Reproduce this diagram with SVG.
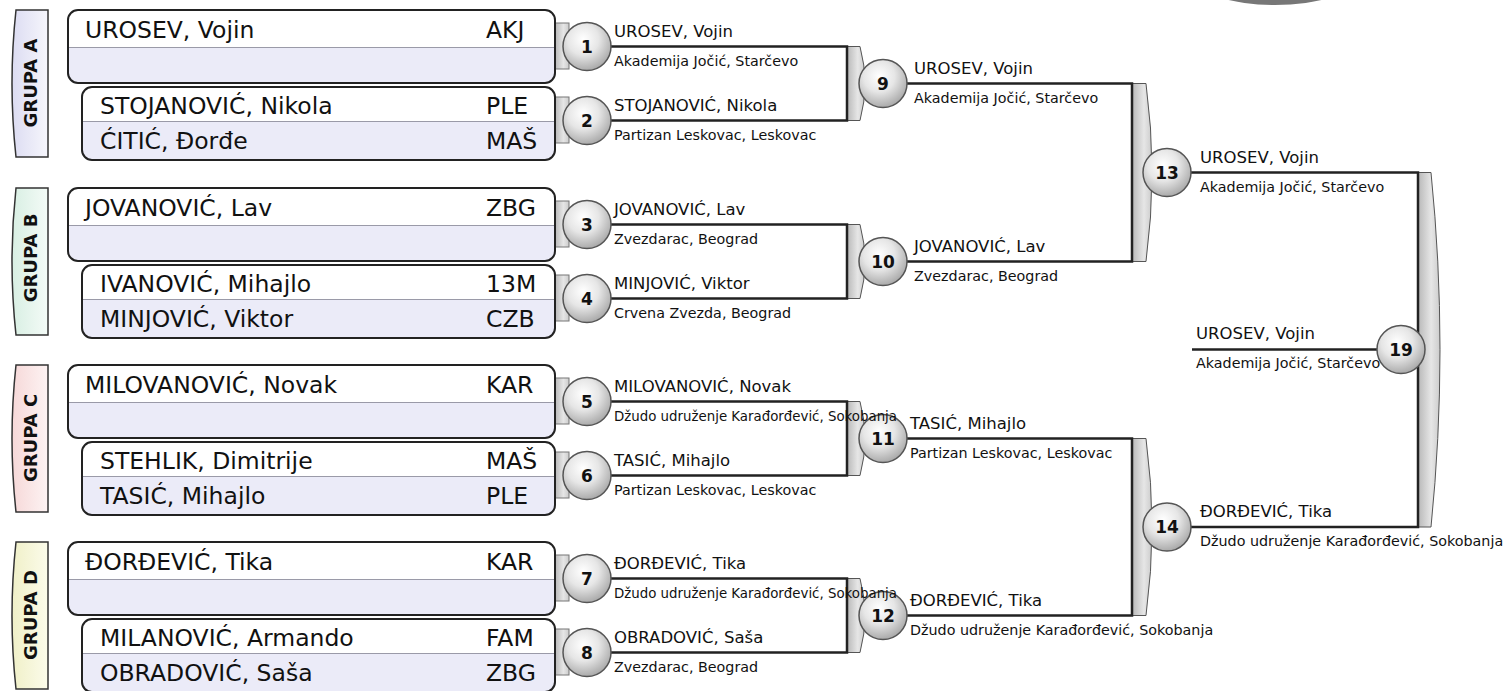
<svg xmlns="http://www.w3.org/2000/svg" width="1508" height="691" viewBox="0 0 1508 691">
<defs>
<radialGradient id="gc" cx="42%" cy="35%" r="65%"><stop offset="0" stop-color="#ffffff"/><stop offset="0.5" stop-color="#e6e6e6"/><stop offset="1" stop-color="#ababab"/></radialGradient>
<linearGradient id="gb" x1="0" y1="0" x2="1" y2="0"><stop offset="0" stop-color="#b8b8b8"/><stop offset="0.6" stop-color="#e6e6e6"/><stop offset="1" stop-color="#cccccc"/></linearGradient>
<linearGradient id="ga" x1="0" y1="0" x2="1" y2="0"><stop offset="0" stop-color="#dcdcf2"/><stop offset="1" stop-color="#f6f6fc"/></linearGradient>
<linearGradient id="gB" x1="0" y1="0" x2="1" y2="0"><stop offset="0" stop-color="#d8efe3"/><stop offset="1" stop-color="#f4fbf7"/></linearGradient>
<linearGradient id="gC" x1="0" y1="0" x2="1" y2="0"><stop offset="0" stop-color="#f6d8d8"/><stop offset="1" stop-color="#fdf3f3"/></linearGradient>
<linearGradient id="gD" x1="0" y1="0" x2="1" y2="0"><stop offset="0" stop-color="#f0f0c8"/><stop offset="1" stop-color="#fbfbea"/></linearGradient>
<radialGradient id="gk" cx="50%" cy="30%" r="60%"><stop offset="0" stop-color="#000"/><stop offset="0.85" stop-color="#222"/><stop offset="1" stop-color="#777"/></radialGradient>
<style>
text{font-family:"DejaVu Sans","Noto Sans",sans-serif;fill:#111}
.nm{font-size:23.5px}
.p{font-size:16.5px}
.c{font-size:14.3px}
.n{font-size:17px;font-weight:bold;text-anchor:middle}
.g{font-size:18px;font-weight:bold;text-anchor:middle}
.box{fill:none;stroke:#222;stroke-width:2}
.lav{fill:#ebebf8}
.wh{fill:#ffffff}
.dv{stroke:#9a9aa8;stroke-width:1.2;fill:none}
.tabg{stroke:#333;stroke-width:1.5}
.tr{fill:url(#gb);stroke:#777;stroke-width:1}
.br{fill:url(#gb);stroke:#555;stroke-width:1}
.ln{fill:none;stroke:#222;stroke-width:2.5}
.ci{fill:url(#gc);stroke:#555;stroke-width:1.5}
</style>
</defs>
<rect width="1508" height="691" fill="#ffffff"/>
<ellipse cx="1275" cy="-22" rx="80" ry="27" fill="url(#gk)"/>

<!-- groups -->
<g id="grupaA" transform="translate(0,10)">
<path class="tabg" fill="url(#ga)" d="M48,0 L16,0 Q8,73.5 16,147 L48,147 Z"/>
<text class="g" transform="translate(37,73) rotate(-90)">GRUPA A</text>
<rect class="tr" x="555" y="13" width="14" height="46"/><rect class="tr" x="555" y="87" width="14" height="46"/>
<rect class="lav" x="68" y="0" width="487" height="73" rx="10"/>
<path class="wh" d="M68,37.5 V10 Q68,0 78,0 H545 Q555,0 555,10 V37.5 Z"/>
<path class="dv" d="M68,37.5 H555"/>
<rect class="box" x="68" y="0" width="487" height="73" rx="10"/>
<rect class="lav" x="82" y="77" width="473" height="73" rx="10"/>
<path class="wh" d="M82,111.5 V87 Q82,77 92,77 H545 Q555,77 555,87 V111.5 Z"/>
<path class="dv" d="M82,111.5 H555"/>
<rect class="box" x="82" y="77" width="473" height="73" rx="10"/>
<text class="nm" x="85" y="27.5">UROSEV, Vojin</text><text class="nm" x="486" y="27.5">AKJ</text>
<text class="nm" x="100" y="103.5">STOJANOVIĆ, Nikola</text><text class="nm" x="486" y="103.5">PLE</text>
<text class="nm" x="100" y="138.5">ĆITIĆ, Đorđe</text><text class="nm" x="486" y="138.5">MAŠ</text>
</g>

<g id="grupaB" transform="translate(0,188)">
<path class="tabg" fill="url(#gB)" d="M48,0 L16,0 Q8,73.5 16,147 L48,147 Z"/>
<text class="g" transform="translate(37,70) rotate(-90)">GRUPA B</text>
<rect class="tr" x="555" y="13" width="14" height="46"/><rect class="tr" x="555" y="87" width="14" height="46"/>
<rect class="lav" x="68" y="0" width="487" height="73" rx="10"/>
<path class="wh" d="M68,37.5 V10 Q68,0 78,0 H545 Q555,0 555,10 V37.5 Z"/>
<path class="dv" d="M68,37.5 H555"/>
<rect class="box" x="68" y="0" width="487" height="73" rx="10"/>
<rect class="lav" x="82" y="77" width="473" height="73" rx="10"/>
<path class="wh" d="M82,111.5 V87 Q82,77 92,77 H545 Q555,77 555,87 V111.5 Z"/>
<path class="dv" d="M82,111.5 H555"/>
<rect class="box" x="82" y="77" width="473" height="73" rx="10"/>
<text class="nm" x="85" y="27.5">JOVANOVIĆ, Lav</text><text class="nm" x="486" y="27.5">ZBG</text>
<text class="nm" x="100" y="103.5">IVANOVIĆ, Mihajlo</text><text class="nm" x="486" y="103.5">13M</text>
<text class="nm" x="100" y="138.5">MINJOVIĆ, Viktor</text><text class="nm" x="486" y="138.5">CZB</text>
</g>

<g id="grupaC" transform="translate(0,365)">
<path class="tabg" fill="url(#gC)" d="M48,0 L16,0 Q8,73.5 16,147 L48,147 Z"/>
<text class="g" transform="translate(37,73) rotate(-90)">GRUPA C</text>
<rect class="tr" x="555" y="13" width="14" height="46"/><rect class="tr" x="555" y="87" width="14" height="46"/>
<rect class="lav" x="68" y="0" width="487" height="73" rx="10"/>
<path class="wh" d="M68,37.5 V10 Q68,0 78,0 H545 Q555,0 555,10 V37.5 Z"/>
<path class="dv" d="M68,37.5 H555"/>
<rect class="box" x="68" y="0" width="487" height="73" rx="10"/>
<rect class="lav" x="82" y="77" width="473" height="73" rx="10"/>
<path class="wh" d="M82,111.5 V87 Q82,77 92,77 H545 Q555,77 555,87 V111.5 Z"/>
<path class="dv" d="M82,111.5 H555"/>
<rect class="box" x="82" y="77" width="473" height="73" rx="10"/>
<text class="nm" x="85" y="27.5">MILOVANOVIĆ, Novak</text><text class="nm" x="486" y="27.5">KAR</text>
<text class="nm" x="100" y="103.5">STEHLIK, Dimitrije</text><text class="nm" x="486" y="103.5">MAŠ</text>
<text class="nm" x="100" y="138.5">TASIĆ, Mihajlo</text><text class="nm" x="486" y="138.5">PLE</text>
</g>

<g id="grupaD" transform="translate(0,542)">
<path class="tabg" fill="url(#gD)" d="M48,0 L16,0 Q8,73.5 16,147 L48,147 Z"/>
<text class="g" transform="translate(37,73) rotate(-90)">GRUPA D</text>
<rect class="tr" x="555" y="13" width="14" height="46"/><rect class="tr" x="555" y="87" width="14" height="46"/>
<rect class="lav" x="68" y="0" width="487" height="73" rx="10"/>
<path class="wh" d="M68,37.5 V10 Q68,0 78,0 H545 Q555,0 555,10 V37.5 Z"/>
<path class="dv" d="M68,37.5 H555"/>
<rect class="box" x="68" y="0" width="487" height="73" rx="10"/>
<rect class="lav" x="82" y="77" width="473" height="73" rx="10"/>
<path class="wh" d="M82,111.5 V87 Q82,77 92,77 H545 Q555,77 555,87 V111.5 Z"/>
<path class="dv" d="M82,111.5 H555"/>
<rect class="box" x="82" y="77" width="473" height="73" rx="10"/>
<text class="nm" x="85" y="27.5">ĐORĐEVIĆ, Tika</text><text class="nm" x="486" y="27.5">KAR</text>
<text class="nm" x="100" y="103.5">MILANOVIĆ, Armando</text><text class="nm" x="486" y="103.5">FAM</text>
<text class="nm" x="100" y="138.5">OBRADOVIĆ, Saša</text><text class="nm" x="486" y="138.5">ZBG</text>
</g>

<!-- connectors -->
<g id="connectors">
<path class="br" d="M847,46.5 H860 Q870,83.5 860,120.5 H847 Z"/>
<path class="br" d="M847,224.5 H860 Q870,261.5 860,298.5 H847 Z"/>
<path class="br" d="M847,401.5 H860 Q870,438.5 860,475.5 H847 Z"/>
<path class="br" d="M847,578.5 H860 Q870,615.5 860,652.5 H847 Z"/>
<path class="br" d="M1132,83.5 H1146 Q1158,172.5 1146,261.5 H1132 Z"/>
<path class="br" d="M1132,438.5 H1146 Q1158,527 1146,615.5 H1132 Z"/>
<path class="br" d="M1418,172.5 H1431 Q1449,349.75 1431,527 H1418 Z"/>
<path class="ln" d="M587,46.5 H847 V120.5 H587"/>
<path class="ln" d="M587,224.5 H847 V298.5 H587"/>
<path class="ln" d="M587,401.5 H847 V475.5 H587"/>
<path class="ln" d="M587,578.5 H847 V652.5 H587"/>
<path class="ln" d="M883,83.5 H1132 V261.5 H883"/>
<path class="ln" d="M883,438.5 H1132 V615.5 H883"/>
<path class="ln" d="M1167,172.5 H1418 V527 H1167"/>
<path class="ln" d="M1192,349.5 H1401"/>
</g>

<!-- match nodes -->
<g id="m1"><circle class="ci" cx="587" cy="46.5" r="24"/><text class="n" x="587" y="52.5">1</text></g>
<g id="m2"><circle class="ci" cx="587" cy="120.5" r="24"/><text class="n" x="587" y="126.5">2</text></g>
<g id="m3"><circle class="ci" cx="587" cy="224.5" r="24"/><text class="n" x="587" y="230.5">3</text></g>
<g id="m4"><circle class="ci" cx="587" cy="298.5" r="24"/><text class="n" x="587" y="304.5">4</text></g>
<g id="m5"><circle class="ci" cx="587" cy="401.5" r="24"/><text class="n" x="587" y="407.5">5</text></g>
<g id="m6"><circle class="ci" cx="587" cy="475.5" r="24"/><text class="n" x="587" y="481.5">6</text></g>
<g id="m7"><circle class="ci" cx="587" cy="578.5" r="24"/><text class="n" x="587" y="584.5">7</text></g>
<g id="m8"><circle class="ci" cx="587" cy="652.5" r="24"/><text class="n" x="587" y="658.5">8</text></g>
<g id="m9"><circle class="ci" cx="883" cy="83.5" r="24"/><text class="n" x="883" y="89.5">9</text></g>
<g id="m10"><circle class="ci" cx="883" cy="261.5" r="24"/><text class="n" x="883" y="267.5">10</text></g>
<g id="m11"><circle class="ci" cx="883" cy="438.5" r="24"/><text class="n" x="883" y="444.5">11</text></g>
<g id="m12"><circle class="ci" cx="883" cy="615.5" r="24"/><text class="n" x="883" y="621.5">12</text></g>
<g id="m13"><circle class="ci" cx="1167" cy="172.5" r="24"/><text class="n" x="1167" y="178.5">13</text></g>
<g id="m14"><circle class="ci" cx="1167" cy="527" r="24"/><text class="n" x="1167" y="533">14</text></g>
<g id="m19">
<text class="p" x="1196" y="339">UROSEV, Vojin</text><text class="c" x="1196" y="368">Akademija Jočić, Starčevo</text>
<circle class="ci" cx="1401" cy="349.5" r="24"/><text class="n" x="1401" y="355.5">19</text></g>

<!-- result labels -->
<g id="labels">
<text class="p" x="614" y="36.5">UROSEV, Vojin</text><text class="c" x="614" y="65.5">Akademija Jočić, Starčevo</text>
<text class="p" x="614" y="110.5">STOJANOVIĆ, Nikola</text><text class="c" x="614" y="139.5">Partizan Leskovac, Leskovac</text>
<text class="p" x="614" y="214.5">JOVANOVIĆ, Lav</text><text class="c" x="614" y="243.5">Zvezdarac, Beograd</text>
<text class="p" x="614" y="288.5">MINJOVIĆ, Viktor</text><text class="c" x="614" y="317.5">Crvena Zvezda, Beograd</text>
<text class="p" x="614" y="391.5">MILOVANOVIĆ, Novak</text><text class="c" x="614" y="420.5" textLength="283" lengthAdjust="spacingAndGlyphs">Džudo udruženje Karađorđević, Sokobanja</text>
<text class="p" x="614" y="465.5">TASIĆ, Mihajlo</text><text class="c" x="614" y="494.5">Partizan Leskovac, Leskovac</text>
<text class="p" x="614" y="568.5">ĐORĐEVIĆ, Tika</text><text class="c" x="614" y="597.5" textLength="283" lengthAdjust="spacingAndGlyphs">Džudo udruženje Karađorđević, Sokobanja</text>
<text class="p" x="614" y="642.5">OBRADOVIĆ, Saša</text><text class="c" x="614" y="671.5">Zvezdarac, Beograd</text>
<text class="p" x="914" y="73.5">UROSEV, Vojin</text><text class="c" x="914" y="102.5">Akademija Jočić, Starčevo</text>
<text class="p" x="914" y="251.5">JOVANOVIĆ, Lav</text><text class="c" x="914" y="280.5">Zvezdarac, Beograd</text>
<text class="p" x="910" y="428.5">TASIĆ, Mihajlo</text><text class="c" x="910" y="457.5">Partizan Leskovac, Leskovac</text>
<text class="p" x="910" y="605.5">ĐORĐEVIĆ, Tika</text><text class="c" x="910" y="634.5">Džudo udruženje Karađorđević, Sokobanja</text>
<text class="p" x="1200" y="162.5">UROSEV, Vojin</text><text class="c" x="1200" y="191.5">Akademija Jočić, Starčevo</text>
<text class="p" x="1200" y="517">ĐORĐEVIĆ, Tika</text><text class="c" x="1200" y="546">Džudo udruženje Karađorđević, Sokobanja</text>
</g>
</svg>
